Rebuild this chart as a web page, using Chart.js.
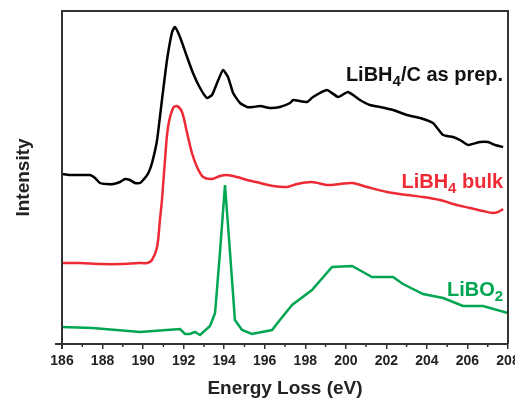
<!DOCTYPE html>
<html>
<head>
<meta charset="utf-8">
<script src="https://cdn.jsdelivr.net/npm/chart.js@4"></script>
<style>
  html, body { margin: 0; padding: 0; background: #fff; overflow: hidden; }
</style>
</head>
<body>
<canvas id="myChart" width="515" height="398"></canvas>
<script>
// setup - values (energy loss in eV, intensity in arbitrary units)
const xTicks = [186, 188, 190, 192, 194, 196, 198, 200, 202, 204, 206, 208];

const prepX = [186.0, 186.39, 186.89, 187.38, 187.63, 187.87, 188.2, 188.53, 188.86, 189.11, 189.35, 189.6, 189.85, 190.09, 190.26,
  190.44, 190.69, 190.93, 191.18, 191.43, 191.57, 191.82, 192.17, 192.46, 192.81, 193.15, 193.4, 193.65, 193.94, 194.19,
  194.44, 194.78, 195.13, 195.42, 195.77, 196.26, 196.75, 197.25, 197.4, 198.09, 198.38, 199.07, 199.62, 200.11, 200.7,
  201.19, 201.69, 202.33, 203.02, 203.66, 204.3, 204.8, 205.29, 205.63, 206.03, 206.62, 207.02, 207.36, 207.76];
const prepY = [170, 169, 169, 169, 166, 161, 160, 160, 162, 165, 164, 161, 161, 166, 171,
  181, 204, 244, 284, 312, 317, 307, 287, 271, 256, 246, 249, 261, 274, 267,
  251, 241, 237, 237, 238, 236, 237, 241, 244, 242, 247, 254, 247, 252, 244,
  239, 237, 234, 229, 226, 221, 209, 207, 204, 199, 202, 202, 199, 197];

const bulkX = [186.0, 186.9, 187.9, 188.9, 189.8, 190.2, 190.44, 190.69, 190.83, 190.93, 191.08, 191.23, 191.48, 191.67,
  191.92, 192.17, 192.41, 192.66, 192.96, 193.4, 193.79, 194.14, 194.63, 195.13, 195.77, 196.41, 197.1, 197.59,
  198.33, 199.07, 199.71, 200.31, 201.05, 202.03, 203.02, 203.81, 204.65, 205.29, 206.13, 206.77, 207.26, 207.51, 207.76];
const bulkY = [81, 81, 80, 80, 81, 81, 84, 97, 124, 144, 184, 217, 236, 238,
  232, 211, 191, 177, 167, 165, 168, 169, 167, 164, 161, 158, 157, 160,
  162, 159, 160, 161, 157, 152, 149, 147, 144, 140, 136, 133, 131, 132, 135];

const liboX = [186.0, 187.5, 189.85, 191.82, 192.07, 192.31, 192.56, 192.81, 193.3, 193.55, 193.79, 194.04, 194.29,
  194.53, 194.88, 195.37, 196.36, 196.75, 197.35, 198.33, 199.32, 200.31, 201.29, 202.33, 202.82, 203.81,
  204.8, 205.78, 206.77, 208.0];
const liboY = [17, 16, 12, 15, 10, 10, 12, 9, 18, 31, 91, 159, 91,
  24, 14, 10, 14, 24, 39, 54, 77, 78, 67, 67, 60, 50,
  46, 38, 38, 31];

const pts = (xs, ys) => xs.map((x, i) => ({ x: x, y: ys[i] }));

const data = {
  datasets: [
    {
      label: 'LiBH4/C as prep.',
      data: pts(prepX, prepY),
      borderColor: '#000000',
      borderWidth: 2.5,
      pointRadius: 0,
      tension: 0.15
    },
    {
      label: 'LiBH4 bulk',
      data: pts(bulkX, bulkY),
      borderColor: '#ee2a35',
      borderWidth: 2.5,
      pointRadius: 0,
      tension: 0.3
    },
    {
      label: 'LiBO2',
      data: pts(liboX, liboY),
      borderColor: '#00a651',
      borderWidth: 2.5,
      pointRadius: 0,
      tension: 0
    }
  ]
};

// frame block: left/top/right lines and minor ticks
const frame = {
  id: 'frame',
  afterDraw(chart) {
    const { ctx, chartArea: { top, bottom, left, right }, scales: { x } } = chart;
    ctx.save();
    ctx.strokeStyle = '#333';
    ctx.lineWidth = 2;
    ctx.beginPath();
    ctx.moveTo(left, bottom + 5);
    ctx.lineTo(left, top);
    ctx.lineTo(right, top);
    ctx.lineTo(right, bottom);
    ctx.moveTo(left - 7, bottom);
    ctx.lineTo(left, bottom);
    ctx.stroke();
    // minor ticks
    ctx.lineWidth = 1.5;
    ctx.beginPath();
    for (let v = 187; v < 208; v += 2) {
      const px = x.getPixelForValue(v);
      ctx.moveTo(px, bottom);
      ctx.lineTo(px, bottom + 3);
    }
    ctx.stroke();
    ctx.restore();
  }
};

// curve labels with subscripts
const curveLabels = {
  id: 'curveLabels',
  afterDatasetsDraw(chart) {
    const { ctx, scales: { x, y } } = chart;
    const big = 'bold 20px "Liberation Sans", Arial, sans-serif';
    const small = 'bold 15px "Liberation Sans", Arial, sans-serif';
    function draw(parts, xv, yv, color) {
      ctx.save();
      ctx.fillStyle = color;
      ctx.textBaseline = 'alphabetic';
      let w = 0;
      parts.forEach(p => { ctx.font = p[1] ? small : big; w += ctx.measureText(p[0]).width; });
      let px = x.getPixelForValue(xv) - w;
      const py = y.getPixelForValue(yv);
      parts.forEach(p => {
        ctx.font = p[1] ? small : big;
        ctx.fillText(p[0], px, p[1] ? py + 5 : py);
        px += ctx.measureText(p[0]).width;
      });
      ctx.restore();
    }
    draw([['LiBH', false], ['4', true], ['/C as prep.', false]], 207.76, 263, '#111');
    draw([['LiBH', false], ['4', true], [' bulk', false]], 207.76, 156, '#ee2a35');
    draw([['LiBO', false], ['2', true]], 207.76, 48, '#00a651');
  }
};

// config
const config = {
  type: 'line',
  data,
  options: {
    responsive: false,
    animation: false,
    layout: { padding: { left: 0, right: 7, top: 11, bottom: 0 } },
    plugins: { legend: { display: false }, tooltip: { enabled: false } },
    scales: {
      x: {
        type: 'linear',
        min: 186,
        max: 208,
        afterBuildTicks(scale) { scale.ticks = xTicks.map(v => ({ value: v })); },
        afterFit(scale) { scale.height = 54; scale.paddingLeft = 0; scale.paddingRight = 0; },
        ticks: {
          padding: 4,
          color: '#222',
          font: { family: '"Liberation Sans", Arial, sans-serif', size: 14, weight: 'bold' },
          maxRotation: 0
        },
        grid: { display: true, drawOnChartArea: false, drawTicks: true, tickLength: 5, color: '#333', lineWidth: 1.5 },
        border: { display: true, color: '#333', width: 2 },
        title: {
          display: true,
          text: 'Energy Loss (eV)',
          color: '#222',
          font: { family: '"Liberation Sans", Arial, sans-serif', size: 19, weight: 'bold', lineHeight: 1 },
          padding: { top: 0, bottom: 0 }
        }
      },
      y: {
        min: 0,
        max: 333,
        afterFit(scale) { scale.width = 62; },
        ticks: { display: false },
        grid: { display: false },
        border: { display: false },
        title: {
          display: true,
          text: 'Intensity',
          color: '#222',
          font: { family: '"Liberation Sans", Arial, sans-serif', size: 19, weight: 'bold', lineHeight: 1.2 },
          padding: { top: 12, bottom: 0 }
        }
      }
    }
  },
  plugins: [frame, curveLabels]
};

// render init block
const myChart = new Chart(
  document.getElementById('myChart'),
  config
);
</script>
</body>
</html>
